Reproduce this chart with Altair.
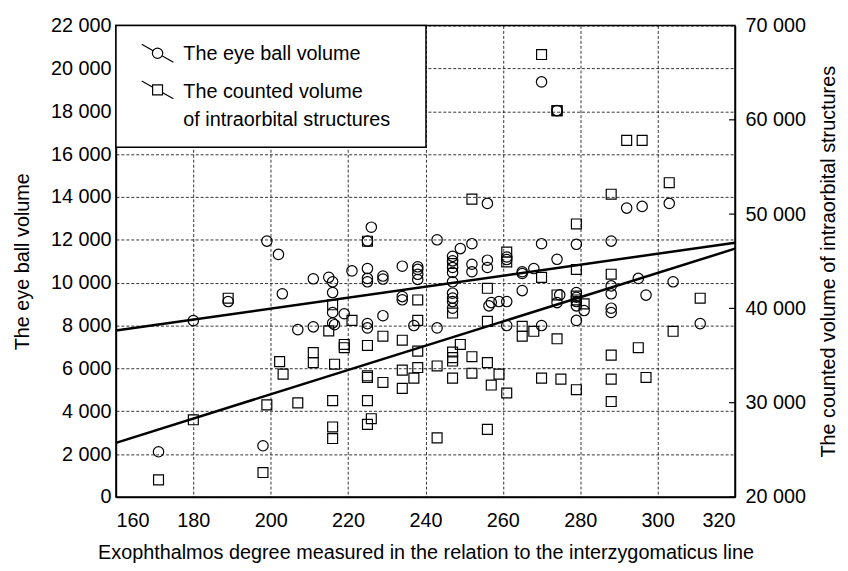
import altair as alt
import pandas as pd

# ---------------- data ----------------
x_ticks = [160, 180, 200, 220, 240, 260, 280, 300, 320]
eye_ticks = [0, 2000, 4000, 6000, 8000, 10000, 12000, 14000, 16000, 18000, 20000, 22000]
orb_ticks = [20000, 30000, 40000, 50000, 60000, 70000]

# eye ball volume (circles, left axis)
eye_x = [171, 198, 180, 189, 199, 202, 203, 207, 211, 211, 215, 216, 216, 216, 216, 216.5,
         219, 221, 225, 225, 226, 225, 225, 225, 225, 229, 229, 229, 234, 234, 234,
         238, 238, 238, 238, 237, 243, 243, 247, 247, 247, 247, 247, 247, 247, 247, 247,
         249, 252, 252, 252, 256, 256, 256, 256.4, 257, 259, 261, 261, 261, 261,
         265, 265, 265, 268, 270, 270, 270, 274, 274, 274.7, 274, 279, 279, 279, 279, 279,
         281, 279, 288, 288, 288, 288, 288, 292, 296, 295, 297, 303, 304, 311]
eye_y = [2110, 2390, 8230, 9120, 11940, 11320, 9480, 7810, 10180, 7940, 10250, 10040, 9540, 8610, 8120, 8040,
         8550, 10550, 10660, 11940, 12590, 10200, 10040, 8090, 7890, 10310, 10170, 8460, 10770, 9350, 9200,
         10740, 10620, 10390, 10150, 8000, 12000, 7890, 11230, 11020, 10710, 10480, 10040, 9510, 9280, 9120, 8810,
         11590, 11820, 10860, 10510, 13700, 11050, 10710, 8920, 9070, 9120, 9120, 11200, 11080, 8000,
         10510, 10430, 9630, 10660, 19370, 11820, 8000, 18030, 11090, 9430, 9070, 11790, 9540, 9320, 9120, 8920,
         8700, 8240, 11940, 9850, 9480, 8810, 8610, 13480, 13560, 10200, 9420, 13700, 10040, 8090]

# counted volume of intraorbital structures (squares, right axis)
orb_x = [171, 198, 180, 189, 199, 202.3, 203.2, 207, 211, 211, 215, 216, 216.5, 216, 216, 216,
         219, 219, 221, 225, 225, 225, 225, 225, 226, 225, 229, 229, 234, 234, 234,
         238, 238, 238, 238, 237, 243, 243, 247, 247, 247, 247, 247, 247, 249,
         252, 252, 252, 256, 256, 256, 257, 256, 259, 261, 261, 261, 265, 265, 268,
         270, 270, 270, 274, 274, 274, 274, 275, 279, 279, 281, 279, 279, 279,
         288, 288, 288, 288, 288, 292, 296, 295, 297, 303, 304, 311]
orb_y = [21820, 22590, 28190, 41080, 29770, 34360, 33030, 29980, 35310, 34250, 37620, 40380, 34080, 30220, 27430, 26200,
         36180, 35830, 38730, 47130, 36070, 32850, 32680, 30220, 28300, 27700, 37050, 32150, 36630, 33450, 31520,
         40900, 38730, 35470, 33730, 32610, 33900, 26270, 44760, 39510, 35370, 34780, 34420, 32610, 36180,
         51590, 34880, 33130, 42130, 38620, 34250, 31870, 27170, 33030, 45980, 44930, 31030, 38100, 37050, 37570,
         66920, 43290, 32610, 60970, 60970, 41430, 36780, 32500, 48960, 44130, 40480, 41300, 40900, 31380,
         52110, 43630, 35050, 32500, 30120, 57820, 57820, 35830, 32680, 53330, 37570, 41080]

# regression lines (end points)
fit_x = [160, 320]
eye_fit = [7765, 11864]
orb_fit = [25746, 46334]

# ---------------- chart ----------------
FONT = "Liberation Sans"
FS = 20
W, H = 625, 476

eye_df = pd.DataFrame({"x": eye_x, "y": eye_y})
orb_df = pd.DataFrame({"x": orb_x, "y": orb_y})
eye_fit_df = pd.DataFrame({"x": fit_x, "y": eye_fit})
orb_fit_df = pd.DataFrame({"x": fit_x, "y": orb_fit})
orb_tick_df = pd.DataFrame({"y": orb_ticks})
one = pd.DataFrame({"a": [0]})

lab = "replace(format(datum.value, ','), ',', ' ')"

X = alt.X("x:Q", scale=alt.Scale(domain=[160, 320], nice=False, zero=False),
          axis=alt.Axis(values=x_ticks, grid=True, gridDash=[3, 2], gridColor="black",
                        gridOpacity=1, gridWidth=0.8, ticks=False, labelPadding=14,
                        titlePadding=12,
                        title="Exophthalmos degree measured in the relation to the interzygomaticus line"))

YL = alt.Y("y:Q", scale=alt.Scale(domain=[0, 22000], nice=False, zero=False),
           axis=alt.Axis(values=eye_ticks, labelExpr=lab, grid=True, gridDash=[3, 2],
                         gridColor="black", gridOpacity=1, gridWidth=0.8, ticks=False,
                         labelPadding=5, titlePadding=18, title="The eye ball volume"))

YR = alt.Y("y:Q", scale=alt.Scale(domain=[20000, 70000], nice=False, zero=False),
           axis=alt.Axis(orient="right", values=orb_ticks, labelExpr=lab, grid=False,
                         ticks=False, labelPadding=10, titlePadding=13,
                         titleAngle=270, titleBaseline="top",
                         title="The counted volume of intraorbital structures"))

circles = alt.Chart(eye_df).mark_point(shape="circle", filled=False, color="black",
                                       size=110, strokeWidth=1.2, opacity=1).encode(x=X, y=YL)
eye_line = alt.Chart(eye_fit_df).mark_line(color="black", strokeWidth=2.5).encode(x=X, y=YL)

squares = alt.Chart(orb_df).mark_point(shape="square", filled=False, color="black",
                                       size=100, strokeWidth=1.2, opacity=1).encode(x=X, y=YR)
orb_line = alt.Chart(orb_fit_df).mark_line(color="black", strokeWidth=2.5).encode(x=X, y=YR)
orb_tk = alt.Chart(orb_tick_df).mark_rule(color="black", strokeWidth=1.2).encode(
    y=YR, x=alt.value(W - 6), x2=alt.value(W))

# legend box
box = alt.Chart(one).mark_rect(fill="white", stroke="black", strokeWidth=1.5).encode(
    x=alt.value(0), x2=alt.value(313), y=alt.value(0), y2=alt.value(123))
leg_l1 = alt.Chart(one).mark_rule(color="black", strokeWidth=1.2).encode(
    x=alt.value(26), x2=alt.value(58), y=alt.value(19), y2=alt.value(37))
leg_c = alt.Chart(one).mark_point(shape="circle", filled=True, fill="white", stroke="black",
                                  size=110, strokeWidth=1.2, opacity=1).encode(
    x=alt.value(42), y=alt.value(28))
leg_l2 = alt.Chart(one).mark_rule(color="black", strokeWidth=1.2).encode(
    x=alt.value(26), x2=alt.value(58), y=alt.value(56), y2=alt.value(74))
leg_s = alt.Chart(one).mark_point(shape="square", filled=True, fill="white", stroke="black",
                                  size=100, strokeWidth=1.2, opacity=1).encode(
    x=alt.value(42), y=alt.value(65))
txt_kw = dict(align="left", baseline="middle", font=FONT, fontSize=FS, color="black")
leg_t1 = alt.Chart(one).mark_text(**txt_kw).encode(x=alt.value(68), y=alt.value(29),
                                                    text=alt.value("The eye ball volume"))
leg_t2 = alt.Chart(one).mark_text(**txt_kw).encode(x=alt.value(68), y=alt.value(67),
                                                    text=alt.value("The counted volume"))
leg_t3 = alt.Chart(one).mark_text(**txt_kw).encode(x=alt.value(68), y=alt.value(95),
                                                    text=alt.value("of intraorbital structures"))

left = alt.layer(circles, eye_line)
right = alt.layer(squares, orb_line, orb_tk)
legend = alt.layer(box, leg_l1, leg_c, leg_l2, leg_s, leg_t1, leg_t2, leg_t3)

chart = alt.layer(left, right, legend).resolve_scale(y="independent").properties(
    width=W, height=H,
    autosize=alt.AutoSizeParams(type="none"),
    padding={"left": 109, "top": 15, "right": 106, "bottom": 70},
).configure_view(stroke="black", strokeWidth=1.5).configure_axis(
    labelFont=FONT, titleFont=FONT, labelFontSize=FS, titleFontSize=FS,
    titleFontWeight="normal", labelColor="black", titleColor="black",
    domainColor="black", domainWidth=1.5,
)

chart.save("out.html", embed_options={"renderer": "svg", "actions": False})
